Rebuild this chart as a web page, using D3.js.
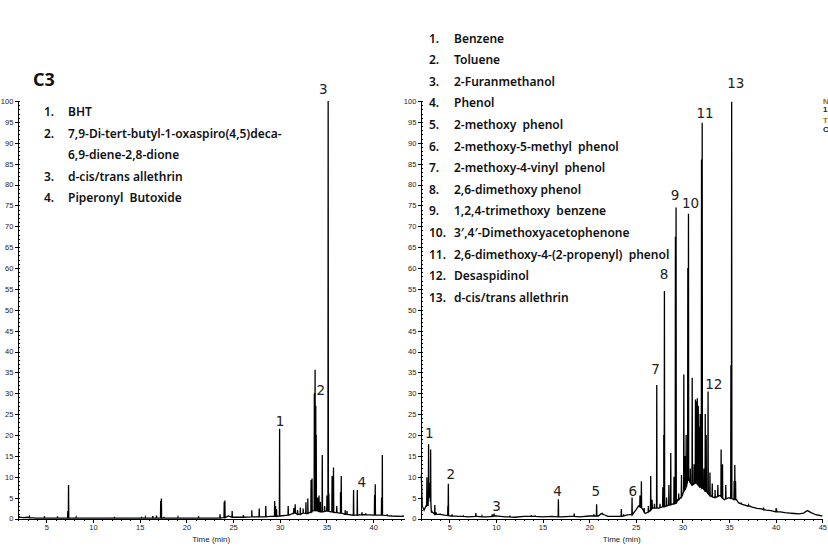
<!DOCTYPE html>
<html><head><meta charset="utf-8">
<script src="https://cdn.jsdelivr.net/npm/d3@7"></script>
<style>
body{margin:0;background:#fff;}
svg{display:block;}
.ax text{font-family:"Liberation Sans",Arial,sans-serif;font-size:7.5px;fill:#222;}
.ax path,.ax line{stroke:#000;stroke-width:1;shape-rendering:crispEdges;}
.leg{font-family:"Noto Sans","Open Sans",sans-serif;font-size:12px;font-weight:600;fill:#111;}
.plab{font-family:"DejaVu Sans","Noto Sans",sans-serif;font-size:13.5px;fill:#222;}
</style></head>
<body>
<svg id="c" width="828" height="548"></svg>
<script>
// ---------- Left panel (C3) ----------
const leftBaseTime = [2.0,2.5,3,4,5,7,8,10,12,15,17,18,20,22,23,24,24.5,25,26,27,28,29,30,31,31.6,32,32.5,33,33.5,34,34.5,35,35.5,36,36.5,37,38,39,40,41,42,43,43.3];
const leftBaseVal  = [0.3,0.2,0.3,0.1,0.1,0.1,0.1,0.1,0.1,0.1,0.1,0.1,0.1,0.1,0.1,0.2,0.6,0.3,0.3,0.4,0.4,0.5,0.6,0.8,1.5,1.0,1.4,1.2,1.8,2.0,1.6,1.8,1.6,1.4,1.3,1.0,0.8,0.9,0.8,0.8,0.6,0.5,0.6];
const leftPeakTime = [2.1,3.2,4.8,6.2,7.3,7.38,8.2,12.3,15.2,15.6,16.4,16.8,17.25,17.32,17.6,19.1,21.3,23.6,24.05,24.12,24.9,26.1,27.0,27.8,28.5,29.45,29.55,29.65,29.98,30.9,31.5,31.65,31.9,32.2,32.5,32.8,33.0,33.35,33.45,33.7,33.78,33.85,33.9,34.05,34.2,34.35,34.55,34.8,35.05,35.18,35.25,35.6,35.75,36.1,36.5,36.58,37.0,37.2,37.9,38.3,38.8,39.2,40.15,40.22,40.9,40.98,41.5];
const leftPeakVal  = [0.6,0.4,0.5,0.5,1.8,8.0,0.3,0.4,0.4,0.3,0.6,0.7,4.2,4.8,0.4,0.3,0.5,1.0,4.0,4.3,1.8,0.8,2.0,2.4,3.0,4.2,3.0,2.2,21.5,3.0,2.5,3.4,2.0,2.6,2.4,3.9,4.8,9.2,9.6,30,35.6,27,20,5.0,5.5,4.0,15.2,3.0,5.5,100,6.0,10.2,12.2,3.0,6.3,10.2,2.0,1.8,6.8,6.8,1.5,1.2,5.6,8.2,5.0,15.2,1.0];
const leftPeakBase = [0.3,0.2,0.1,0.1,0.1,0.1,0.1,0.1,0.1,0.1,0.1,0.1,0.1,0.1,0.1,0.1,0.1,0.1,0.2,0.2,0.3,0.3,0.4,0.4,0.4,0.5,0.5,0.5,0.6,0.8,1.3,1.3,1.0,1.0,1.3,1.2,1.2,1.6,1.7,1.9,1.9,1.9,1.9,1.8,1.7,1.6,1.6,1.7,1.8,1.8,1.7,1.6,1.5,1.4,1.3,1.3,1.0,1.0,0.8,0.8,0.9,0.9,0.8,0.8,0.8,0.8,0.7];
const leftLegendNum  = ["1.","2.","","3.","4."];
const leftLegendText = ["BHT","7,9-Di-tert-butyl-1-oxaspiro(4,5)deca-","6,9-diene-2,8-dione","d-cis/trans allethrin","Piperonyl  Butoxide"];
const leftLabelText = ["1","2","3","4"];
const leftLabelTime = [30.02,34.38,34.66,38.77];
const leftLabelVal  = [22.2,29.7,101.6,7.5];

// ---------- Right panel ----------
const rightBaseTime = [2.0,2.1,2.3,2.5,2.65,3.2,3.5,4.0,4.5,5.2,6,7,8,9,10,11,12,13,14,15,16,17,18,19,20,21,21.3,21.6,22,23,24,24.5,25,25.3,25.8,26.0,26.3,26.8,27.5,28,28.5,29,29.5,30,30.3,30.7,31,31.5,32,32.5,33,33.5,34,34.5,35,35.5,35.8,36,36.5,37,37.5,38,38.5,39,39.5,40,40.5,41,41.5,42,42.5,43,43.4,43.8,44.3,45];
const rightBaseVal  = [10.5,3,2,3,6,1.5,1.0,1.0,0.8,0.6,0.5,0.4,0.5,0.4,0.6,0.4,0.3,0.5,0.5,0.4,0.5,0.4,0.5,0.4,0.6,0.6,1.2,0.9,0.5,0.5,0.8,1.0,2.0,3.0,2.0,1.2,1.5,2.5,2.5,2.8,3.2,3.5,4.5,5.5,7,9.5,8,8.5,7.5,6.5,5.5,5.0,5.5,4.5,5.0,4.5,4.5,3.8,3.3,3.0,2.7,2.4,2.3,2.0,1.9,1.6,1.6,1.4,1.3,1.2,1.1,1.3,1.9,1.4,0.9,0.6];
const rightPeakTime = [2.6,2.7,2.78,2.9,3.0,3.1,3.45,3.6,4.0,4.85,4.9,5.3,6.5,7.85,8.5,9.6,9.8,10.0,11.5,13.8,14.2,16.7,18.4,20.5,20.8,21.4,23.45,23.7,24.6,25.45,25.6,25.9,26.35,26.6,26.75,27.0,27.25,27.6,27.9,28.0,28.07,28.3,28.55,28.75,29.1,29.25,29.32,29.6,29.9,30.15,30.3,30.4,30.58,30.65,30.85,31.05,31.25,31.4,31.5,31.6,31.7,31.8,31.9,32.05,32.12,32.3,32.45,32.55,32.75,32.95,33.2,33.5,33.8,34.15,34.3,34.65,35.2,35.28,35.55,35.62,35.7,36.3,37.1,38.7,40.05,40.1];
const rightPeakVal  = [9.9,6.5,17.8,8.5,16.5,2.0,3.2,1.5,1.2,3.0,8.3,1.0,0.6,1.3,0.6,1.0,1.2,0.8,0.7,0.8,0.6,4.6,1.2,1.0,3.4,1.2,2.3,1.0,5.0,5.5,8.9,2.5,3.0,10.2,4.5,3.5,32,3.5,7.5,20,54.5,5,8,15.7,10,67.5,74.5,6,10.4,34.5,15,20,60,73,12,33.7,13,28.5,28,28.8,27,22,25,86,94.8,12,25,20,30.4,11,8.4,6.8,8,16.5,13,8,36.7,99.8,9,12.8,9,3.8,3.2,2.6,2.5,2.2];
const rightPeakBase = [3,3,5,6,4,1.5,1.0,1.0,1.0,0.7,0.7,0.6,0.5,0.5,0.4,0.5,0.6,0.6,0.4,0.5,0.5,0.4,0.5,0.6,0.6,1.1,0.5,0.6,0.9,2.8,2.6,1.5,1.6,2.0,2.3,2.5,2.5,2.6,2.8,2.8,2.8,3.0,3.2,3.3,3.5,3.6,3.6,4.5,5.2,6.5,7.0,7.5,9.0,9.2,8.5,8.0,8.3,8.5,8.5,8.3,8.0,7.8,7.5,7.4,7.3,7.0,6.5,6.5,6.0,5.5,5.2,5.0,5.3,5.3,4.8,4.7,4.8,4.8,4.5,4.5,4.5,3.5,3.0,2.1,1.6,1.6];
const rightLegendNum  = ["1.","2.","3.","4.","5.","6.","7.","8.","9.","10.","11.","12.","13."];
const rightLegendText = ["Benzene","Toluene","2-Furanmethanol","Phenol","2-methoxy  phenol","2-methoxy-5-methyl  phenol","2-methoxy-4-vinyl  phenol","2,6-dimethoxy phenol","1,2,4-trimethoxy  benzene","3\u2032,4\u2032-Dimethoxyacetophenone","2,6-dimethoxy-4-(2-propenyl)  phenol","Desaspidinol","d-cis/trans allethrin"];
const rightLabelText = ["1","2","3","4","5","6","7","8","9","10","11","12","13"];
const rightLabelTime = [2.86,5.15,10.08,16.6,20.7,24.67,27.13,28.02,29.2,30.88,32.42,33.37,35.73];
const rightLabelVal  = [19.2,9.5,1.9,5.5,5.5,5.5,34.5,57.4,76.3,74.4,96.0,31.0,103.0];

const yTicks = d3.range(0,101,5);
const svg = d3.select("#c");

function buildTrace(bt,bv,pt,pv,pb){
  const pts = bt.map((t,i)=>[t,bv[i]]);
  pt.forEach((t,i)=>{ pts.push([t-0.025,pb[i]],[t,pv[i]],[t+0.025,pb[i]]); });
  pts.sort((a,b)=>a[0]-b[0]);
  return pts;
}

function panel(o){
  const x = d3.scaleLinear().domain(o.xDomain).range(o.xRange);
  const y = d3.scaleLinear().domain([0,100]).range([518.5,101]);
  const g = svg.append("g");
  g.append("g").attr("class","ax").attr("transform",`translate(${o.xRange[0]},0)`)
    .call(d3.axisLeft(y).tickValues(yTicks).tickSize(3).tickPadding(2).tickSizeOuter(0));
  g.append("g").attr("class","ax").attr("transform",`translate(${o.xRange[0]},0)`)
    .call(d3.axisRight(y).tickValues(d3.range(0,101,1)).tickSize(2).tickFormat("").tickSizeOuter(0));
  g.append("g").attr("class","ax").attr("transform","translate(0,518.5)")
    .call(d3.axisBottom(x).tickValues(o.xTicks).tickSize(4).tickPadding(2).tickSizeOuter(0));
  g.append("g").attr("class","ax").attr("transform","translate(0,518.5)")
    .call(d3.axisBottom(x).tickValues(d3.range(Math.ceil(o.xDomain[0]),Math.floor(o.xDomain[1])+1,1)).tickSize(2).tickFormat("").tickSizeOuter(0));
  g.append("text").attr("x",(o.xRange[0]+o.xRange[1])/2).attr("y",542).attr("text-anchor","middle")
    .style("font-family","Liberation Sans,Arial,sans-serif").style("font-size","8px").style("fill","#222").text("Time (min)");
  const pts = buildTrace(o.bt,o.bv,o.pt,o.pv,o.pb);
  g.append("path").datum(pts)
    .attr("d",d3.line().x(d=>x(d[0])).y(d=>y(d[1])))
    .attr("fill","none").attr("stroke","#000").attr("stroke-width",1.3).attr("stroke-linejoin","miter");
  g.selectAll("text.plab").data(o.lt).join("text").attr("class","plab")
    .attr("x",(d,i)=>x(o.lx[i])).attr("y",(d,i)=>y(o.lv[i])).attr("text-anchor","middle").text(d=>d);
  return {x,y};
}

panel({xDomain:[2,43.3],xRange:[18.3,404],xTicks:[5,10,15,20,25,30,35,40],
  bt:leftBaseTime,bv:leftBaseVal,pt:leftPeakTime,pv:leftPeakVal,pb:leftPeakBase,
  lt:leftLabelText,lx:leftLabelTime,lv:leftLabelVal});
panel({xDomain:[2,45],xRange:[421.3,822.3],xTicks:[5,10,15,20,25,30,35,40,45],
  bt:rightBaseTime,bv:rightBaseVal,pt:rightPeakTime,pv:rightPeakVal,pb:rightPeakBase,
  lt:rightLabelText,lx:rightLabelTime,lv:rightLabelVal});

svg.append("text").attr("x",33).attr("y",86).style("font-family","Noto Sans,Open Sans,sans-serif")
  .style("font-size","18px").style("font-weight","700").style("fill","#111").text("C3");

function legend(nums,texts,xn,xt,y0,dy){
  const gg = svg.append("g");
  texts.forEach((t,i)=>{
    gg.append("text").attr("class","leg").attr("x",xn).attr("y",y0+i*dy).text(nums[i]);
    gg.append("text").attr("class","leg").attr("x",xt).attr("y",y0+i*dy).attr("xml:space","preserve").text(t);
  });
}
legend(leftLegendNum,leftLegendText,44,68,116,21.5);
legend(rightLegendNum,rightLegendText,429,454,42.5,21.6);

const edgeText = ["N","1.","T","C"];
const edgeCol = ["#b8600a","#222","#b8600a","#222"];
edgeText.forEach((t,i)=>{
  svg.append("text").attr("x",823).attr("y",[104,112,123,132][i]).style("font-family","Liberation Sans,Arial,sans-serif")
    .style("font-size","8px").style("font-weight","700").style("fill",edgeCol[i]).text(t);
});
</script>
</body></html>
